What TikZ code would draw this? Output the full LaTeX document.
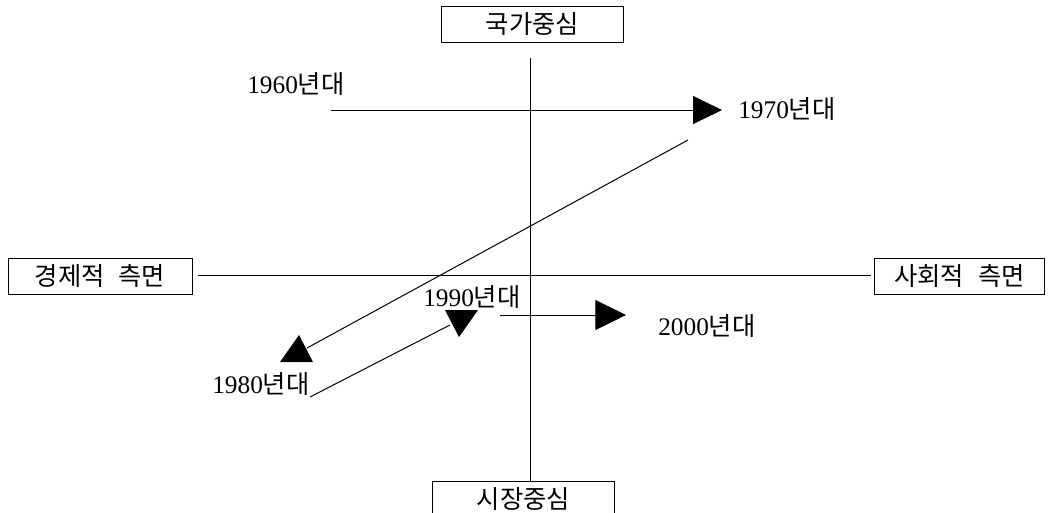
\documentclass[tikz,border=0pt]{standalone}
\usepackage{fontspec}
\setmainfont{Liberation Serif}
\newfontfamily\kr{Noto Sans CJK KR}
\usetikzlibrary{arrows.meta}
\newcommand{\wsp}{\hspace{0.55em}}
\begin{document}
\begin{tikzpicture}[x=0.75pt,y=-0.75pt,
  every node/.style={font=\fontsize{19}{21}\selectfont},
  axisbox/.style={draw,line width=0.75pt,minimum height=27pt,inner sep=0pt,font=\fontsize{19}{21}\selectfont\kr},
  yeartext/.style={anchor=west,inner sep=0pt},
  conn/.style={line width=0.75pt},
  tip/.style={fill=black}]
\clip (0,0) rectangle (1051,512);
\fill[white] (0,0) rectangle (1051,512);
% axis boxes
\node[axisbox,minimum width=137pt] (top) at (532.5,24.5) {국가중심};
\node[axisbox,minimum width=136pt] (bot) at (523.5,499) {시장중심};
\node[axisbox,minimum width=138pt] (left) at (100,276) {경제적\wsp 측면};
\node[axisbox,minimum width=127pt] (right) at (959.5,276) {사회적\wsp 측면};
% axes
\coordinate (vtop) at (530,58);
\draw[conn] (vtop) -- (vtop |- bot.north);
\draw[conn] ([xshift=3.75pt,yshift=0.75pt]left.east) -- ([xshift=-2.25pt,yshift=0.75pt]right.west);
% year labels
\node[yeartext] (t60) at (247,84) {1960{\kr 년대}};
\node[yeartext] (t70) at (738,109) {1970{\kr 년대}};
\node[yeartext] (t80) at (212,384) {1980{\kr 년대}};
\node[yeartext] (t90) at (423,297) {1990{\kr 년대}};
\node[yeartext] (t00) at (658,326) {2000{\kr 년대}};
% connectors
\coordinate (a60) at (331,110);
\coordinate (a70) at (722,110);
\draw[conn,-{Triangle[length=21.75pt,width=21pt]}] (a60) -- (a70);
\coordinate (b70) at (688,140);
\coordinate (b80) at (307,348);
\draw[conn] (b70) -- (b80);
\fill[tip] (280,362) -- (313,362) -- (299,335) -- cycle;
\coordinate (c80) at (310,397);
\coordinate (c90) at (450,325);
\draw[conn] (c80) -- (c90);
\fill[tip] (445,310) -- (478,310) -- (459,337) -- cycle;
\coordinate (d90) at (500,315);
\coordinate (d00) at (626,315);
\draw[conn,-{Triangle[length=23pt,width=22.5pt]}] (d90) -- (d00);
\end{tikzpicture}
\end{document}
